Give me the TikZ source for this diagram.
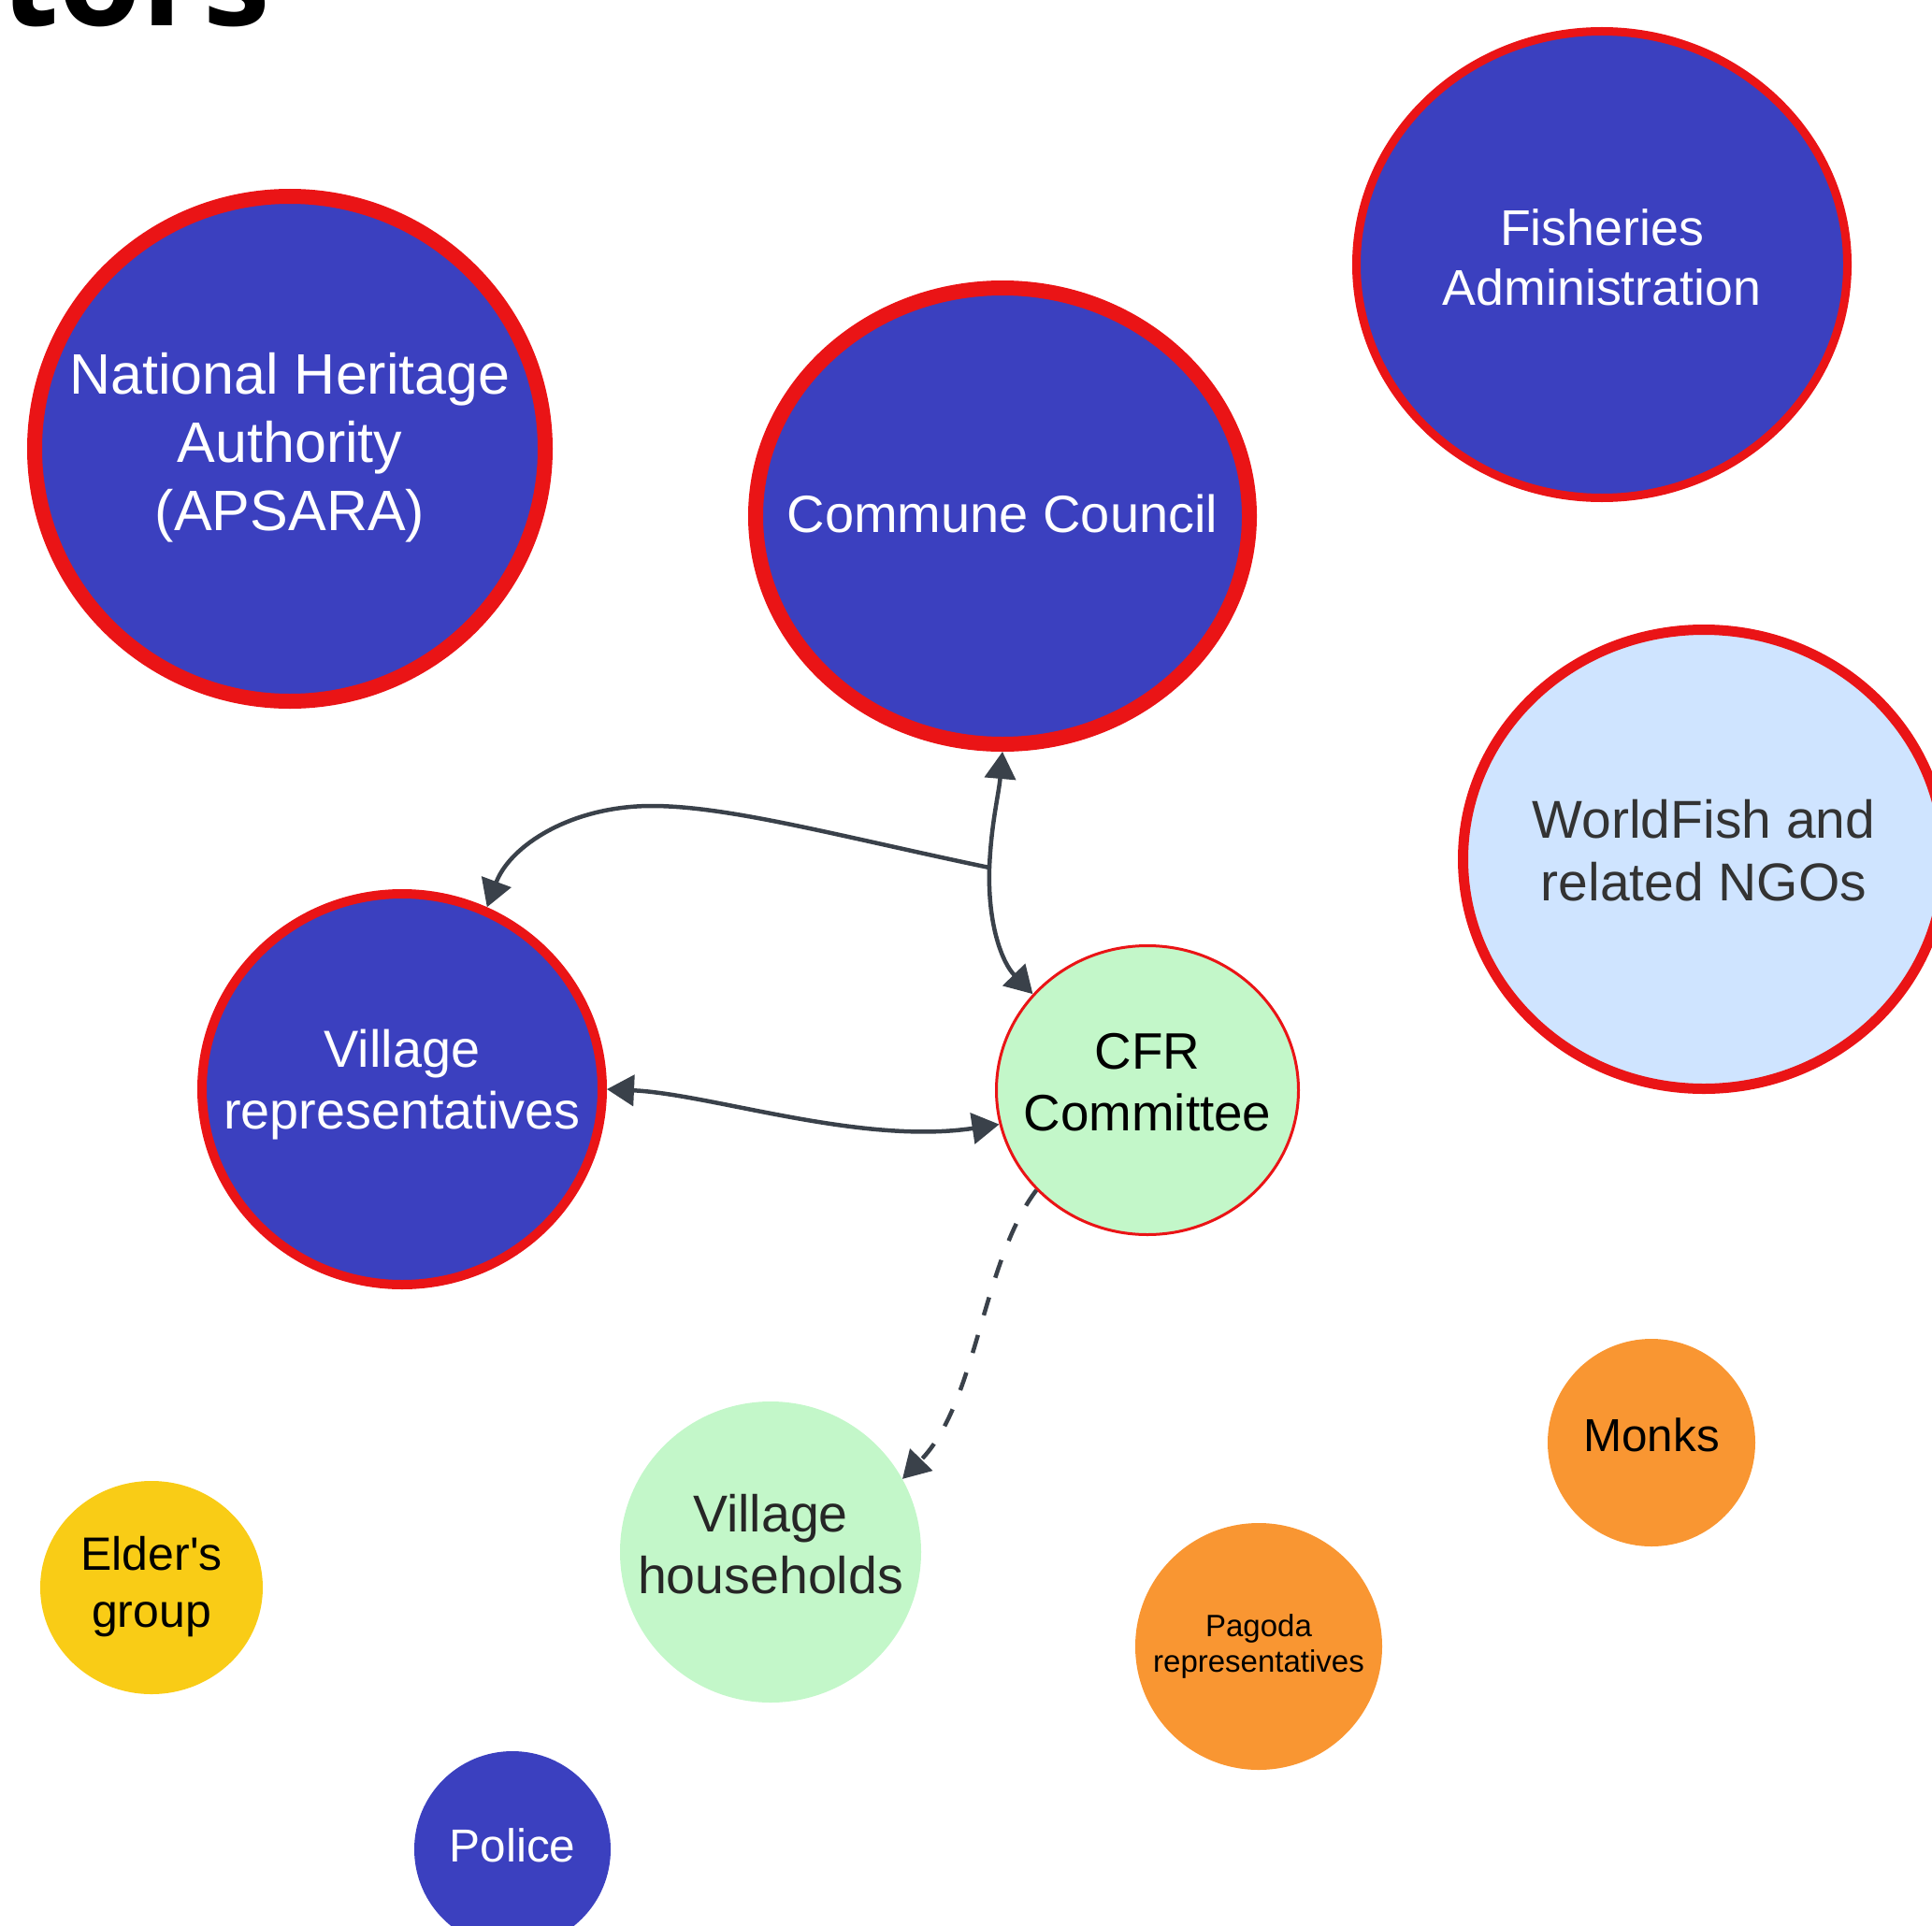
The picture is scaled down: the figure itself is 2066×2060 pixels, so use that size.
\documentclass[tikz,border=0pt]{standalone}
\usepackage{fontspec}
\setmainfont{Liberation Sans}
\newfontfamily\titlefont{Open Sans}
\usetikzlibrary{shapes.geometric,arrows.meta}
\definecolor{actblue}{RGB}{59,64,191}
\definecolor{actred}{RGB}{234,20,22}
\definecolor{actgreen}{RGB}{195,247,201}
\definecolor{actlblue}{RGB}{207,228,255}
\definecolor{actyellow}{RGB}{249,204,22}
\definecolor{actorange}{RGB}{249,150,50}
\definecolor{arrowgray}{RGB}{58,65,74}
\definecolor{txtgray}{RGB}{51,51,51}
\begin{document}
\begin{tikzpicture}[x=1pt,y=-1pt,
  actor/.style={ellipse, inner sep=0pt},
  lbl/.style={align=center, inner sep=0pt},
  conn/.style={draw=arrowgray, line width=4.5pt, >={Triangle[length=29pt,width=33pt]}, ->}
]
\useasboundingbox (0,0) rectangle (2066,2060);
\clip (0,0) rectangle (2066,2060);

\node[anchor=base west, inner sep=0pt, font=\titlefont\bfseries\fontsize{144}{144}\selectfont] (title) at (0,28) {tors};

\node[actor, fill=actblue, draw=actred, line width=16pt, minimum width=546pt, minimum height=540pt,
  label={[lbl, yshift=1pt, text=white, font=\fontsize{61}{73}\selectfont]center:{National Heritage\\Authority\\(APSARA)}}] (nha) at (310,480) {};
\node[actor, fill=actblue, draw=actred, line width=16pt, minimum width=528pt, minimum height=488pt,
  label={[lbl, yshift=3pt, text=white, font=\fontsize{56}{67}\selectfont]center:{Commune Council}}] (cc) at (1072,552) {};
\node[actor, fill=actblue, draw=actred, line width=9pt, minimum width=525pt, minimum height=499pt,
  label={[lbl, yshift=8pt, text=white, font=\fontsize{53.7}{64}\selectfont]center:{Fisheries\\Administration}}] (fa) at (1713,283) {};
\node[actor, fill=actlblue, draw=actred, line width=11pt, minimum width=515pt, minimum height=491pt,
  label={[lbl, yshift=9pt, text=txtgray, font=\fontsize{57}{67}\selectfont]center:{WorldFish and\\related NGOs}}] (wf) at (1822,919) {};
\node[actor, fill=actblue, draw=actred, line width=10pt, minimum width=428pt, minimum height=418pt,
  label={[lbl, yshift=5pt, text=white, font=\fontsize{55.8}{66}\selectfont]center:{Village\\representatives}}] (vr) at (430,1165) {};
\node[actor, fill=actgreen, draw=actred, line width=3pt, minimum width=323pt, minimum height=309pt,
  label={[lbl, yshift=8pt, text=black, font=\fontsize{54.8}{66}\selectfont]center:{CFR\\Committee}}] (cfr) at (1227,1166) {};
\node[actor, fill=actgreen, minimum width=322pt, minimum height=322pt,
  label={[lbl, yshift=8pt, text=black!85, font=\fontsize{55.5}{66}\selectfont]center:{Village\\households}}] (vh) at (824,1660) {};
\node[actor, fill=actyellow, minimum width=238pt, minimum height=228pt,
  label={[lbl, yshift=1pt, text=black, font=\fontsize{50}{61}\selectfont]center:{Elder\textquotesingle s\\group}}] (eg) at (162,1698) {};
\node[actor, fill=actblue, minimum width=210pt, minimum height=210pt,
  label={[lbl, yshift=4pt, text=white, font=\fontsize{49.5}{58}\selectfont]center:{Police}}] (po) at (548,1978) {};
\node[actor, fill=actorange, minimum width=264pt, minimum height=264pt,
  label={[lbl, text=black, font=\fontsize{33}{38}\selectfont]center:{Pagoda\\representatives}}] (pg) at (1346,1761) {};
\node[actor, fill=actorange, minimum width=222pt, minimum height=222pt,
  label={[lbl, yshift=8pt, text=black, font=\fontsize{49.4}{58}\selectfont]center:{Monks}}] (mk) at (1766,1543) {};

\coordinate (J) at (1058,928);
\coordinate (Jtop) at (697,862);

\draw[conn] (J) .. controls (1060,880) and (1068,850) .. (cc.south);
\draw[conn] (J) .. controls (1056,990) and (1072,1030) .. (cfr.140);
\draw[conn] (J) .. controls (900,895) and (780,862) .. (Jtop) .. controls (610,862) and (545,905) .. (vr.65);
\draw[conn, <->] (vr.0) .. controls (760,1170) and (920,1225) .. (cfr.193);
\draw[conn, dash pattern=on 20pt off 22pt] (cfr.222) .. controls (1050,1350) and (1045,1500) .. (vh.29);
\end{tikzpicture}
\end{document}
